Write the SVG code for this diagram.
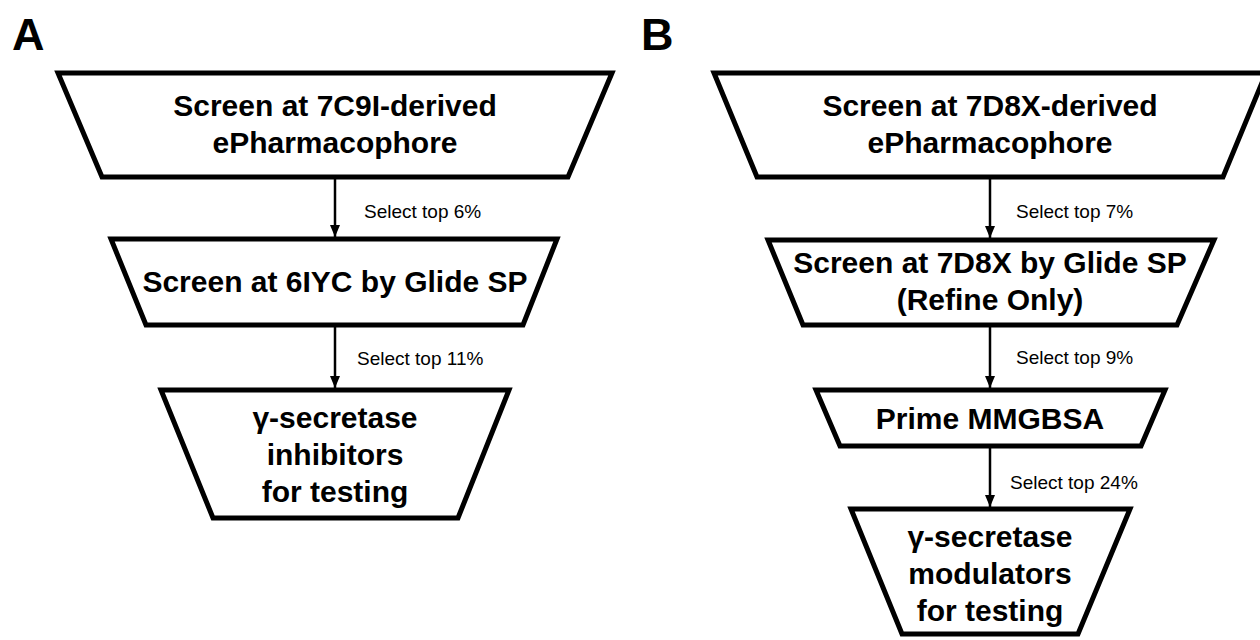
<svg xmlns="http://www.w3.org/2000/svg" width="1260" height="640" viewBox="0 0 1260 640">
  <defs>
    <style>
      .box { fill: #ffffff; stroke: #000000; stroke-width: 5; stroke-linejoin: miter; }
      .t { font-family: "Liberation Sans", Arial, sans-serif; font-weight: bold; font-size: 30px; fill: #000000; text-anchor: middle; }
      .lab { font-family: "Liberation Sans", Arial, sans-serif; font-size: 19px; fill: #000000; }
      .panel { font-family: "Liberation Sans", Arial, sans-serif; font-weight: bold; font-size: 45px; fill: #000000; }
      .conn { stroke: #000000; stroke-width: 2.5; fill: none; marker-end: url(#arrow); }
    </style>
    <marker id="arrow" markerUnits="userSpaceOnUse" markerWidth="12" markerHeight="12" viewBox="0 0 12 12" refX="12" refY="6" orient="auto">
      <path d="M0,1 L12,6 L0,11 Z" fill="#000000"/>
    </marker>
  </defs>
  <rect width="1260" height="640" fill="#ffffff"/>

  <text class="panel" x="12" y="50">A</text>
  <text class="panel" x="641" y="50">B</text>

  <g id="connectors">
    <line class="conn" x1="335" y1="179" x2="335" y2="237"/>
    <line class="conn" x1="335" y1="327" x2="335" y2="388"/>
    <line class="conn" x1="990" y1="179" x2="990" y2="238"/>
    <line class="conn" x1="990" y1="327" x2="990" y2="388"/>
    <line class="conn" x1="990" y1="448" x2="990" y2="507"/>
    <text class="lab" x="364" y="218">Select top 6%</text>
    <text class="lab" x="357" y="365">Select top 11%</text>
    <text class="lab" x="1016" y="218">Select top 7%</text>
    <text class="lab" x="1016" y="364">Select top 9%</text>
    <text class="lab" x="1010" y="489">Select top 24%</text>
  </g>

  <g id="a1">
    <polygon class="box" points="58,73 612,73 568,177 102,177"/>
    <text class="t" x="335" y="116">Screen at 7C9I-derived</text>
    <text class="t" x="335" y="153">ePharmacophore</text>
  </g>
  <g id="a2">
    <polygon class="box" points="111,239 557,239 523,325 146,325"/>
    <text class="t" x="335" y="292">Screen at 6IYC by Glide SP</text>
  </g>
  <g id="a3">
    <polygon class="box" points="161,390 509,390 458,518 213,518"/>
    <text class="t" x="335" y="428">γ-secretase</text>
    <text class="t" x="335" y="465">inhibitors</text>
    <text class="t" x="335" y="502">for testing</text>
  </g>

  <g id="b1">
    <polygon class="box" points="714,73 1266,73 1223,177 757,177"/>
    <text class="t" x="990" y="116">Screen at 7D8X-derived</text>
    <text class="t" x="990" y="153">ePharmacophore</text>
  </g>
  <g id="b2">
    <polygon class="box" points="768,240 1214,240 1177,325 803,325"/>
    <text class="t" x="990" y="273">Screen at 7D8X by Glide SP</text>
    <text class="t" x="990" y="310">(Refine Only)</text>
  </g>
  <g id="b3">
    <polygon class="box" points="816,390 1165,390 1141,446 840,446"/>
    <text class="t" x="990" y="429">Prime MMGBSA</text>
  </g>
  <g id="b4">
    <polygon class="box" points="851,509 1130,509 1078,634 902,634"/>
    <text class="t" x="990" y="547">γ-secretase</text>
    <text class="t" x="990" y="584">modulators</text>
    <text class="t" x="990" y="621">for testing</text>
  </g>
</svg>
